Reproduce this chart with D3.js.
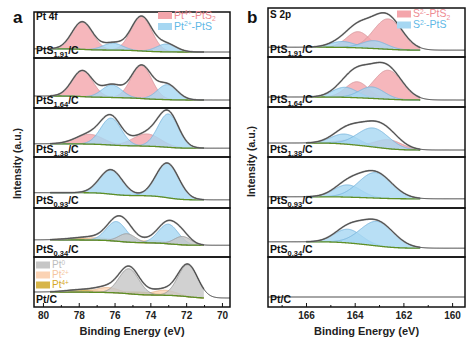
<!DOCTYPE html>
<html>
<head>
<meta charset="utf-8">
<style>
  html, body { margin: 0; padding: 0; background: #fff; }
  text { font-family: Arial, "Liberation Sans", sans-serif; }
  .tick text { font: bold 10px Arial, "Liberation Sans", sans-serif; fill: #222; }
  .tick line { stroke: #111; stroke-width: 1px; }
</style>
</head>
<body>
<svg width="474" height="342"></svg>
<script src="https://cdn.jsdelivr.net/npm/d3@7/dist/d3.min.js"></script>
<script>
// samples, top to bottom: [base, subscript, suffix]
const samples = [["PtS", "1.91", "/C"], ["PtS", "1.64", "/C"], ["PtS", "1.38", "/C"],
                 ["PtS", "0.93", "/C"], ["PtS", "0.34", "/C"], ["Pt/C", "", ""]];

// fitted components per sample: [centre (eV), height above background, FWHM (eV)]
const pt4fPtS2 = [
  [[77.8, 0.60, 1.35], [74.5, 0.75, 1.35]],
  [[77.8, 0.52, 1.35], [74.5, 0.66, 1.35]],
  [[77.4, 0.20, 1.8], [74.2, 0.25, 1.8]],
  [], [], []];
const pt4fPtS = [
  [[76.1, 0.15, 1.3], [73.1, 0.17, 1.3]],
  [[76.15, 0.25, 1.3], [73.05, 0.30, 1.3]],
  [[76.2, 0.55, 1.35], [73.0, 0.68, 1.35]],
  [[76.2, 0.48, 1.5], [73.05, 0.68, 1.5]],
  [[75.9, 0.40, 1.3], [73.0, 0.40, 1.3]],
  []];
const pt4fPt0 = [[], [], [], [],
  [[75.3, 0.17, 1.1], [72.2, 0.17, 1.1]],
  [[75.2, 0.50, 1.3], [71.9, 0.64, 1.3]]];
const pt4fPt2 = [[], [], [], [],
  [[77.0, 0.05, 1.8], [73.7, 0.05, 1.8]],
  [[76.4, 0.10, 1.5], [73.2, 0.10, 1.5]]];
const pt4fPt4 = [[], [], [], [],
  [[78.0, 0.03, 2.0], [74.7, 0.03, 2.0]],
  [[77.8, 0.05, 2.0], [74.5, 0.05, 2.0]]];
// background level [high BE side, low BE side]
const pt4fBg = [[0.20, 0.13], [0.24, 0.16], [0.27, 0.18], [0.30, 0.16], [0.35, 0.24], [0.30, 0.18]];
const pt4fFit = [79.6, 71.0];

const s2pPtS2 = [
  [[163.86, 0.33, 1.1], [162.63, 0.62, 1.4]],
  [[163.9, 0.32, 1.1], [162.63, 0.58, 1.4]],
  [[164.1, 0.09, 1.3], [162.6, 0.18, 1.3]],
  [], [], []];
const s2pPtS = [
  [[164.5, 0.12, 1.2], [163.2, 0.16, 1.2]],
  [[164.4, 0.20, 1.2], [163.3, 0.23, 1.2]],
  [[164.4, 0.20, 1.3], [163.24, 0.38, 1.5]],
  [[164.3, 0.24, 1.3], [163.16, 0.50, 1.6]],
  [[164.27, 0.28, 1.3], [163.08, 0.50, 1.6]],
  []];
const s2pBg = [[0.20, 0.14], [0.20, 0.14], [0.28, 0.14], [0.22, 0.18], [0.31, 0.18], [0.20, 0.20]];
const s2pFit = [166.0, 161.3];

const pt4fTicks = [80, 78, 76, 74, 72, 70];
const pt4fMinor = [79, 77, 75, 73, 71];
const s2pTicks = [166, 164, 162, 160];
const s2pMinor = [167, 165, 163, 161];

const styles = {
  pt4: { fill: "#d7b548", stroke: "#b8982f" },
  pt2: { fill: "#fbd3b4", stroke: "#e7b58f" },
  pts2: { fill: "#f4a5ab", stroke: "#d7979d" },
  pts: { fill: "#a6d7f2", stroke: "#79b5dd" },
  pt0: { fill: "#c6c6c6", stroke: "#999" }
};

const svg = d3.select("svg");

function gauss(e, p) {
  const d = (e - p[0]) / p[2];
  return p[1] * Math.exp(-4 * Math.LN2 * d * d);
}

function drawPanel(cfg) {
  const x = d3.scaleLinear().domain(cfg.domain).range([cfg.left, cfg.right]);
  const g = svg.append("g");
  const lo = Math.min(...cfg.domain), hi = Math.max(...cfg.domain);
  const grid = d3.range(lo, hi + 0.01, 0.02);

  cfg.tops.forEach((top, i) => {
    const bottom = i < 5 ? cfg.tops[i + 1] : cfg.bottom;
    const y = d3.scaleLinear().domain([0, 1]).range([bottom, top]);
    const comps = [];
    cfg.layers.forEach(l => l.data[i].forEach(p => comps.push({ key: l.key, p })));

    // sum of components and a Shirley-type step background
    const total = grid.map(e => d3.sum(comps, c => gauss(e, c.p)));
    const cum = d3.cumsum(total);
    const area = cum[cum.length - 1];
    const [bgL, bgR] = cfg.bg[i];
    const bg = grid.map((e, k) => area > 0 ? bgR + (bgL - bgR) * cum[k] / area : bgR);
    const pts = grid.map((e, k) => ({ e, k }));
    const inFit = pts.filter(d => d.e >= cfg.fit[1] && d.e <= cfg.fit[0]);

    const clip = "clip" + cfg.id + i;
    g.append("clipPath").attr("id", clip).append("rect")
      .attr("x", cfg.left).attr("y", top).attr("width", cfg.right - cfg.left).attr("height", bottom - top);
    const sub = g.append("g").attr("clip-path", `url(#${clip})`);

    comps.forEach(c => {
      const st = styles[c.key];
      const ar = d3.area().x(d => x(d.e)).y0(d => y(bg[d.k])).y1(d => y(bg[d.k] + gauss(d.e, c.p)));
      sub.append("path").datum(inFit).attr("d", ar)
        .attr("fill", st.fill).attr("fill-opacity", 0.8);
      const ln = d3.line().x(d => x(d.e)).y(d => y(bg[d.k] + gauss(d.e, c.p)));
      sub.append("path").datum(inFit).attr("d", ln)
        .attr("fill", "none").attr("stroke", st.stroke).attr("stroke-width", 0.9);
    });

    const line = f => d3.line().x(d => x(d.e)).y(d => y(f(d)));
    if (comps.length) {
      sub.append("path").datum(inFit).attr("d", line(d => bg[d.k]))
        .attr("fill", "none").attr("stroke", "#5f8f25").attr("stroke-width", 1.3);
      sub.append("path").datum(inFit).attr("d", line(d => bg[d.k] + total[d.k]))
        .attr("fill", "none").attr("stroke", "#9a9a9a").attr("stroke-width", 1.8);
    }
    sub.append("path").datum(pts).attr("d", line(d => bg[d.k] + total[d.k]))
      .attr("fill", "none").attr("stroke", comps.length ? "#333" : "#888")
      .attr("stroke-width", comps.length ? 1 : 1.4);

    g.append("rect").attr("x", cfg.left).attr("y", top)
      .attr("width", cfg.right - cfg.left).attr("height", bottom - top)
      .attr("fill", "none").attr("stroke", "#111").attr("stroke-width", 1.5);

    const s = samples[i];
    const t = g.append("text").attr("x", cfg.left + 2).attr("y", bottom - 4)
      .attr("font-size", 10.5).attr("font-weight", "bold").attr("fill", "#111");
    t.append("tspan").text(s[0]);
    if (s[1]) {
      t.append("tspan").attr("font-size", 7.5).attr("dy", 3).text(s[1]);
      t.append("tspan").attr("dy", -3).text(s[2]);
    }
  });

  // bottom axis with inward ticks
  const ax = g.append("g").attr("transform", `translate(0,${cfg.bottom})`)
    .call(d3.axisBottom(x).tickValues(cfg.ticks).tickSize(-4).tickPadding(5).tickFormat(d3.format("d")));
  ax.select(".domain").remove();
  const mx = g.append("g").attr("transform", `translate(0,${cfg.bottom})`)
    .call(d3.axisBottom(x).tickValues(cfg.minor).tickSize(-2).tickFormat(""));
  mx.select(".domain").remove();

  g.append("text").attr("x", (cfg.left + cfg.right) / 2).attr("y", 335)
    .attr("text-anchor", "middle").attr("font-size", 11).attr("font-weight", "bold")
    .attr("fill", "#222").text("Binding Energy (eV)");
  g.append("text").attr("transform", `translate(${cfg.left - 13},${(cfg.tops[0] + cfg.bottom) / 2 + 4}) rotate(-90)`)
    .attr("text-anchor", "middle").attr("font-size", 10.5).attr("font-weight", "bold")
    .attr("fill", "#222").text("Intensity (a.u.)");
  g.append("text").attr("x", cfg.left - 21).attr("y", 23).attr("font-size", 17)
    .attr("font-weight", "bold").attr("fill", "#111").text(cfg.letter);
  g.append("text").attr("x", cfg.left + 2).attr("y", cfg.tops[0] + 8 + (cfg.id === "a" ? 0 : 2))
    .attr("font-size", 10).attr("font-weight", "bold").attr("fill", "#111").text(cfg.title);
  return g;
}

// legend rows: swatch plus text pieces [text, baseline shift]
function legend(g, x0, y0, step, size, rows) {
  rows.forEach((r, i) => {
    const yy = y0 + i * step;
    g.append("rect").attr("x", x0).attr("y", yy - 6.5).attr("width", 14).attr("height", 7)
      .attr("fill", styles[r.key].fill);
    const t = g.append("text").attr("x", x0 + 16).attr("y", yy).attr("font-size", size)
      .attr("fill", r.color);
    let shift = 0;
    r.parts.forEach(([txt, s]) => {
      t.append("tspan").attr("dy", s - shift).attr("font-size", s ? size * 0.64 : size).text(txt);
      shift = s;
    });
  });
}

const gA = drawPanel({
  id: "a", letter: "a", title: "Pt 4f", domain: [80.5, 69.55], left: 34, right: 230,
  tops: [12, 58, 108, 157, 208, 257], bottom: 307, fit: pt4fFit, bg: pt4fBg,
  ticks: pt4fTicks, minor: pt4fMinor,
  layers: [{ key: "pt4", data: pt4fPt4 }, { key: "pt2", data: pt4fPt2 }, { key: "pts2", data: pt4fPtS2 },
           { key: "pts", data: pt4fPtS }, { key: "pt0", data: pt4fPt0 }]
});
const gB = drawPanel({
  id: "b", letter: "b", title: "S 2p", domain: [167.56, 159.47], left: 268, right: 465,
  tops: [8, 57, 107, 157, 208, 257], bottom: 307, fit: s2pFit, bg: s2pBg,
  ticks: s2pTicks, minor: s2pMinor,
  layers: [{ key: "pts2", data: s2pPtS2 }, { key: "pts", data: s2pPtS }]
});

legend(gA, 158, 18.5, 11, 10.5, [
  { key: "pts2", color: "#ee8c93", parts: [["Pt", 0], ["4+", -3.5], ["-PtS", 0], ["2", 2.5]] },
  { key: "pts", color: "#5fb8e6", parts: [["Pt", 0], ["2+", -3.5], ["-PtS", 0]] }
]);
legend(gA, 36, 268, 10, 10, [
  { key: "pt0", color: "#bdbdbd", parts: [["Pt", 0], ["0", -3.5]] },
  { key: "pt2", color: "#f5c6a0", parts: [["Pt", 0], ["2+", -3.5]] },
  { key: "pt4", color: "#d6a725", parts: [["Pt", 0], ["4+", -3.5]] }
]);
legend(gB, 397, 17, 11, 10.5, [
  { key: "pts2", color: "#ee8c93", parts: [["S", 0], ["2-", -3.5], ["-PtS", 0], ["2", 2.5]] },
  { key: "pts", color: "#5fb8e6", parts: [["S", 0], ["2-", -3.5], ["-PtS", 0]] }
]);
</script>
</body>
</html>
